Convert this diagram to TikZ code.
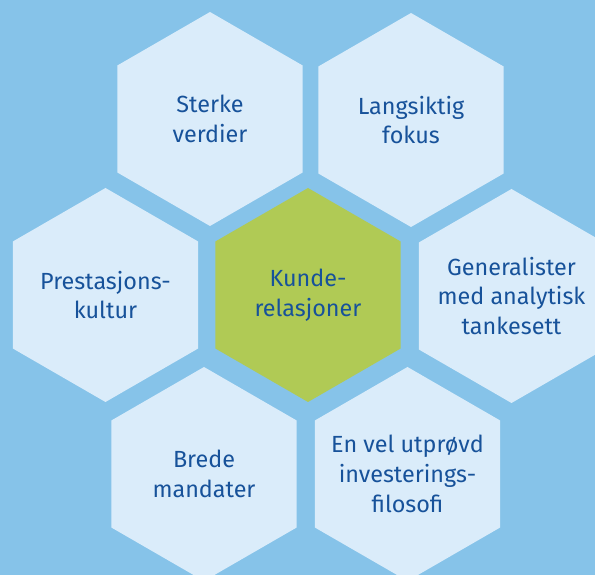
\documentclass[tikz,border=0pt]{standalone}
\usepackage{fontspec}
\setmainfont{Fira Sans}
\usetikzlibrary{shapes.geometric}

\definecolor{bgblue}{HTML}{86C3E9}
\definecolor{hexblue}{HTML}{DAECFA}
\definecolor{hexgreen}{HTML}{B0CA55}
\definecolor{textblue}{HTML}{17529A}

\begin{document}
\begin{tikzpicture}[
  hex/.style={regular polygon, regular polygon sides=6, shape border rotate=30,
    minimum size=4.28cm, inner sep=0pt, fill=hexblue},
  core/.style={hex, fill=hexgreen},
  hexlabel/.style={text=textblue, align=center, inner sep=0pt,
    font=\fontsize{13.3}{17}\selectfont}
]

% background
\useasboundingbox (-6.16,5.9) rectangle (5.74,-5.6);
\clip (-6.16,5.9) rectangle (5.74,-5.6);
\fill[bgblue] (-6.16,5.9) rectangle (5.74,-5.6);

% nodes
\node[hex, label={[hexlabel]center:Sterke\\verdier}] (S) at (-1.96, 3.52) {};
\node[hex, label={[hexlabel]center:Langsiktig\\fokus}] (L) at (2.06, 3.50) {};

\node[hex, label={[hexlabel]center:Prestasjons-\\kultur}] (P) at (-4.05, 0) {};
\node[core, label={[hexlabel]center:Kunde-\\relasjoner}] (K) at (0, 0) {};
\node[hex, label={[hexlabel]center:Generalister\\med analytisk\\tankesett}] (G) at (4.07, -0.02) {};

\node[hex, label={[hexlabel]center:Brede\\mandater}] (B) at (-2.08, -3.58) {};
\node[hex, label={[hexlabel]center:En vel utprøvd\\investerings-\\filosofi}] (E) at (1.99, -3.58) {};

\end{tikzpicture}
\end{document}
